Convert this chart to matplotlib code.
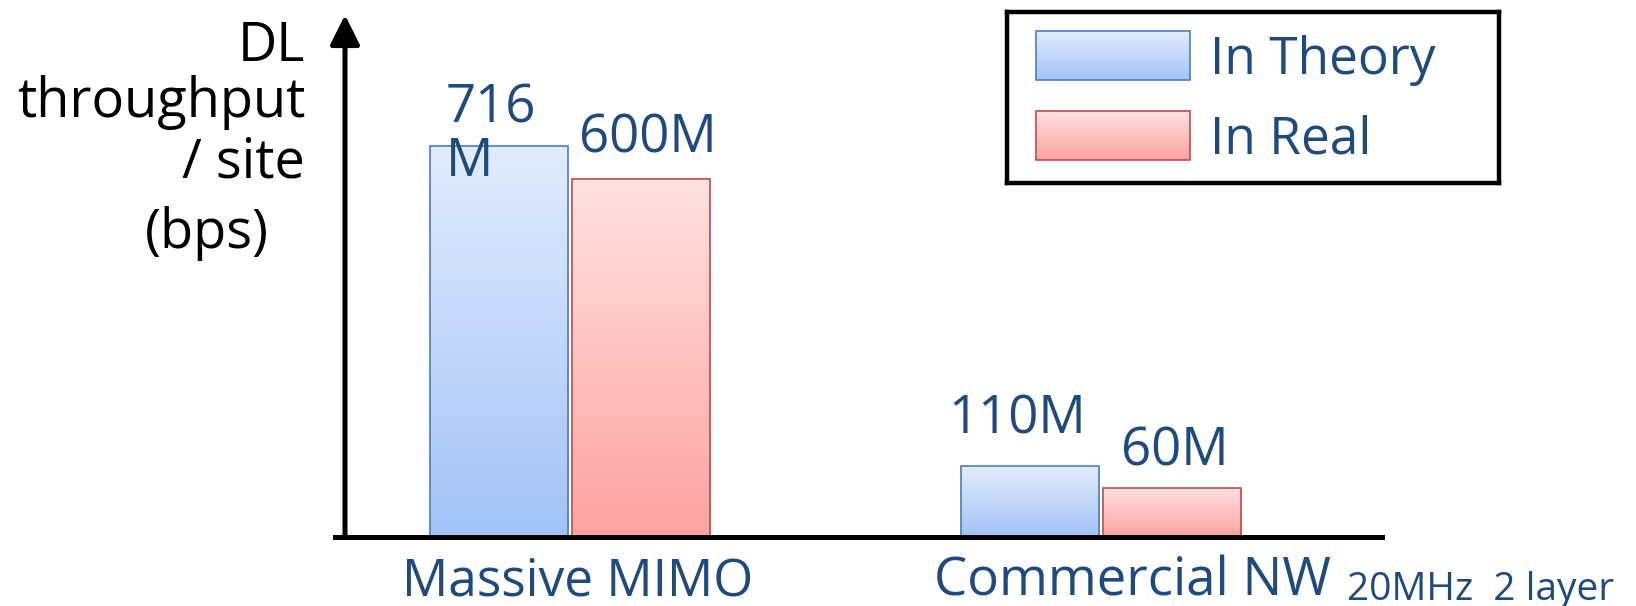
import numpy as np
import matplotlib.pyplot as plt
from matplotlib.colors import LinearSegmentedColormap
from matplotlib.patches import Rectangle

# data (bar heights as drawn, in units where the Massive MIMO theory bar = 716)
categories = ['Massive MIMO', 'Commercial NW']
series = ['In Theory', 'In Real']
theory_heights = [716, 130]
real_heights = [656, 90]
theory_labels = ['716\nM', '110M']
real_labels = ['600M', '60M']
category_note = '20MHz  2 layer'

TEXT_BLUE = '#1F4A7D'
BLUE_TOP, BLUE_BOT, BLUE_EDGE = '#E2ECFD', '#A3C2F7', '#4A7EBB'
RED_TOP, RED_BOT, RED_EDGE = '#FFE2E2', '#FCA3A0', '#BE4B48'

plt.rcParams['font.family'] = ['Open Sans', 'DejaVu Sans']

W, H = 1636, 606
fig = plt.figure(figsize=(W / 100, H / 100), dpi=100)


def px(x, y):
    # figure pixel (from top-left) -> figure fraction
    return x / W, 1 - y / H


def fill_gradient(ax, rect, top, bottom):
    cmap = LinearSegmentedColormap.from_list('g', [bottom, top])
    x, y = rect.get_x(), rect.get_y()
    w, h = rect.get_width(), rect.get_height()
    grad = np.linspace(0, 1, 256).reshape(-1, 1)
    im = ax.imshow(grad, cmap=cmap, extent=[x, x + w, y, y + h], origin='lower',
                   aspect='auto', interpolation='bilinear', zorder=rect.get_zorder() - 0.1)
    im.set_clip_path(rect)


# main axes: y-axis at x=345px, baseline at y=537px, arrow tip at y=15px
left, bottom = px(345, 537)
right, top = px(1382, 15)
ax = fig.add_axes([left, bottom, right - left, top - bottom])
ax.axis('off')

x = np.arange(len(categories))
width = 0.26
off = 0.134
bars_t = ax.bar(x - off, theory_heights, width, facecolor='none', edgecolor=BLUE_EDGE, lw=1.2, zorder=3)
bars_r = ax.bar(x + off, real_heights, width, facecolor='none', edgecolor=RED_EDGE, lw=1.2, zorder=3)
for r in bars_t:
    fill_gradient(ax, r, BLUE_TOP, BLUE_BOT)
for r in bars_r:
    fill_gradient(ax, r, RED_TOP, RED_BOT)
ax.set_xlim(-0.4237, 1.529)
ax.set_ylim(0, 956)

# axes lines
ax.axhline(0, xmin=-0.01, xmax=1, color='black', lw=3.6, clip_on=False, zorder=4)
ax.annotate('', xy=(0, 1), xytext=(0, 0), xycoords='axes fraction',
            arrowprops=dict(arrowstyle='-|>,head_length=0.9,head_width=0.45', mutation_scale=20,
                            lw=3.6, color='black', shrinkA=0, shrinkB=0), zorder=4)

# value labels
t_offsets = [(16, -30, 'left'), (-13, 33, 'center')]
r_offsets = [(7, 26, 'center'), (3, 22, 'center')]
for r, lab, (dx, dy, ha) in zip(bars_t, theory_labels, t_offsets):
    xx = r.get_x() if ha == 'left' else r.get_x() + r.get_width() / 2
    ax.annotate(lab, xy=(xx, r.get_height()), xytext=(dx, dy),
                textcoords='offset pixels', ha=ha, va='baseline', fontsize=38,
                color=TEXT_BLUE, linespacing=1.0, zorder=5)
for r, lab, (dx, dy, ha) in zip(bars_r, real_labels, r_offsets):
    ax.annotate(lab, xy=(r.get_x() + r.get_width() / 2, r.get_height()), xytext=(dx, dy),
                textcoords='offset pixels', ha=ha, va='baseline', fontsize=38,
                color=TEXT_BLUE, zorder=5)

# category labels
cat_offsets = [8, 31]
cat_sizes = [37, 38]
cat_texts = []
for xi, cat, dx, fs in zip(x, categories, cat_offsets, cat_sizes):
    t = ax.annotate(cat, xy=(xi, 0), xytext=(dx, -59), textcoords='offset pixels',
                    ha='center', va='baseline', fontsize=fs, color=TEXT_BLUE,
                    annotation_clip=False)
    cat_texts.append(t)
ax.annotate(category_note, xy=(1, 0), xycoords=cat_texts[1], xytext=(16, 0),
            textcoords='offset pixels', ha='left', va='bottom', fontsize=28, color=TEXT_BLUE)

# y label
ylab_lines = [('DL', 305, 61), ('throughput', 305, 117), ('/ site', 305, 178), ('(bps)', 269, 248)]
for txt, xr, yb in ylab_lines:
    fig.text(*px(xr, yb), txt, ha='right', va='baseline', fontsize=39, color='black')

# legend box
l0, b0 = px(1007, 183)
l1, b1 = px(1499, 12)
lax = fig.add_axes([l0, b0, l1 - l0, b1 - b0])
lax.set_xticks([])
lax.set_yticks([])
for s in lax.spines.values():
    s.set_linewidth(3.2)
    s.set_color('black')
legend_items = [(series[0], 103, BLUE_TOP, BLUE_BOT, BLUE_EDGE),
                (series[1], 23, RED_TOP, RED_BOT, RED_EDGE)]
for name, yb, ctop, cbot, edge in legend_items:
    rect = Rectangle((29, yb), 154, 49, facecolor='none', edgecolor=edge, lw=1.2, zorder=3)
    lax.add_patch(rect)
    fill_gradient(lax, rect, ctop, cbot)
    lax.text(203, yb + 20, name, ha='left', va='center', fontsize=37, color=TEXT_BLUE)
lax.set_xlim(0, 492)
lax.set_ylim(0, 171)

fig.savefig('out.png', dpi=100)
